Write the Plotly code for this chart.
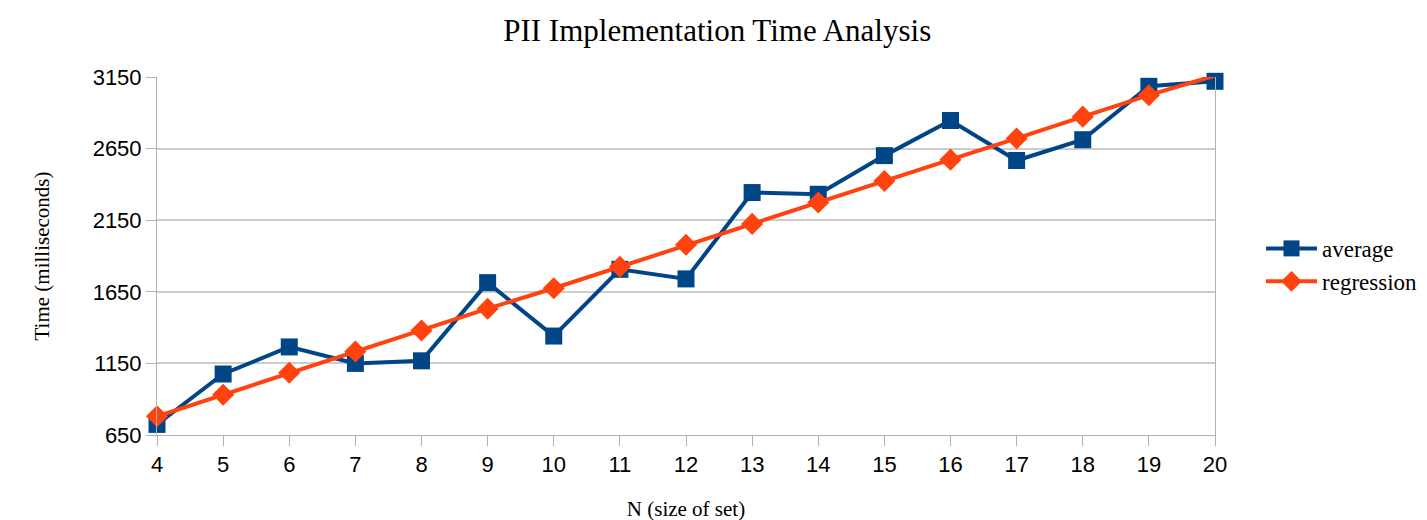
import plotly.graph_objects as go

n_values = list(range(4, 21))
average = [724, 1076, 1265, 1150, 1168, 1714, 1341, 1807, 1740, 2343, 2331,
           2601, 2846, 2567, 2712, 3085, 3120]
regression = [781, 931, 1085, 1233, 1380, 1532, 1675, 1825, 1979, 2124, 2274,
              2424, 2573, 2721, 2873, 3023, 3160]
y_ticks = [650, 1150, 1650, 2150, 2650, 3150]

fig = go.Figure()
fig.add_trace(go.Scatter(
    x=n_values, y=average, name="average", mode="lines+markers",
    line=dict(color="#004586", width=4),
    marker=dict(symbol="square", size=17, color="#004586"),
    cliponaxis=False))
fig.add_trace(go.Scatter(
    x=n_values, y=regression, name="regression", mode="lines+markers",
    line=dict(color="#ff420e", width=4),
    marker=dict(symbol="diamond", size=17, color="#ff420e"),
    cliponaxis=False))

fig.update_layout(
    width=1427, height=520,
    margin=dict(l=149, r=220, t=69, b=90),
    paper_bgcolor="white", plot_bgcolor="white",
    title=dict(text="PII Implementation Time Analysis", x=0.497, xanchor="center",
               y=0.958, yanchor="middle",
               font=dict(family="Liberation Serif", size=31, color="black")),
    legend=dict(x=1.0435, y=0.475, xanchor="left", yanchor="middle",
                font=dict(family="Liberation Serif", size=23, color="black"),
                bgcolor="rgba(0,0,0,0)", itemwidth=51, tracegroupgap=4),
    showlegend=True,
)
fig.update_xaxes(
    range=[4, 20], tickmode="array", tickvals=n_values,
    ticks="outside", ticklen=10, tickcolor="#b3b3b3",
    showgrid=False, showline=True, linecolor="#b3b3b3", linewidth=1,
    mirror=False, zeroline=False,
    tickfont=dict(family="Liberation Sans", size=22, color="black"),
    title=dict(text="N (size of set)", standoff=24,
               font=dict(family="Liberation Serif", size=21, color="black")),
)
fig.update_yaxes(
    range=[650, 3150], tickmode="array", tickvals=y_ticks,
    ticks="outside", ticklen=10, tickcolor="#b3b3b3",
    showgrid=True, gridcolor="#cccccc", gridwidth=1.5,
    showline=True, linecolor="#b3b3b3", linewidth=1, mirror=True,
    zeroline=False,
    tickfont=dict(family="Liberation Sans", size=22, color="black"),
    title=dict(text="Time (milliseconds)", standoff=37,
               font=dict(family="Liberation Serif", size=21, color="black")),
)

fig.write_html("out.html")
